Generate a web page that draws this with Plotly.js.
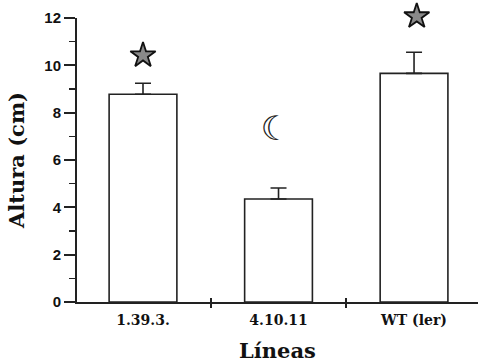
<!DOCTYPE html>
<html>
<head>
<meta charset="utf-8">
<script src="https://cdn.plot.ly/plotly-3.0.1.min.js"></script>
<style>html,body{margin:0;padding:0;background:#fff;}#chart{width:478px;height:363px;}</style>
</head>
<body>
<div id="chart"></div>
<script>
const categories = ['1.39.3.', '4.10.11', 'WT (ler)'];
const positions = [0, 1, 2];
const heights = [8.78, 4.35, 9.66];
const errorsUp = [0.46, 0.47, 0.89];
const starX = [0, 2.02];
const starY = [10.42, 12.07];
const moonX = [0.98];
const moonY = [7.2];
const yTicks = [0, 2, 4, 6, 8, 10, 12];

const serif = '"DejaVu Serif", "Liberation Serif", serif';
const sans = '"Liberation Sans", Arial, sans-serif';

// plot geometry: 12 units on the main axis, extra head-room on the hidden axis
const yMax = 12;
const topMargin = 4;
const bottomMargin = 61;
const plotH = 363 - topMargin - bottomMargin;
const pxPerUnit = (302 - 18) / yMax;
const mainFrac = (yMax * pxPerUnit) / plotH;
const y2Max = plotH / pxPerUnit;

const traces = [
  {
    type: 'bar', x: positions, y: heights, width: 0.5,
    marker: {color: '#ffffff', line: {color: '#222', width: 1.6}},
    error_y: {type: 'data', array: errorsUp, arrayminus: [0, 0, 0], symmetric: false,
              color: '#222', thickness: 1.6, width: 8},
    hoverinfo: 'none'
  },
  {
    type: 'scatter', mode: 'markers', x: starX, y: starY, yaxis: 'y2', cliponaxis: false,
    marker: {symbol: 'star', size: 19, color: '#8a8a8a', line: {color: '#111', width: 1.8}},
    hoverinfo: 'none'
  },
  {
    type: 'scatter', mode: 'text', x: moonX, y: moonY, yaxis: 'y2', text: ['☾'], cliponaxis: false,
    textfont: {family: '"DejaVu Sans", sans-serif', size: 34, color: '#222'},
    hoverinfo: 'none'
  },
  {
    type: 'scatter', mode: 'markers', x: [0.5], y: [0], xaxis: 'x2', yaxis: 'y',
    marker: {opacity: 0}, hoverinfo: 'none', showlegend: false
  }
];

const xr = [-0.487, 2.472];
const layout = {
  width: 478, height: 363,
  margin: {l: 77, r: 0, t: topMargin, b: bottomMargin},
  paper_bgcolor: '#fff', plot_bgcolor: 'rgba(0,0,0,0)',
  showlegend: false,
  xaxis: {
    range: xr, tickmode: 'array', tickvals: positions, ticktext: categories,
    ticks: '', showgrid: false, zeroline: false, anchor: 'y',
    showline: true, linecolor: '#222', linewidth: 2, ticklabelstandoff: 4,
    tickfont: {family: serif, size: 14, color: '#111', weight: 'bold'},
    minor: {tick0: 0.5, dtick: 1, ticks: 'outside', ticklen: 4, tickwidth: 2, tickcolor: '#222', showgrid: false},
    title: {text: '<b>Líneas</b>', font: {family: serif, size: 21, color: '#111'}, standoff: 20}
  },
  xaxis2: {
    overlaying: 'x', anchor: 'y', side: 'bottom', range: xr,
    tickmode: 'array', tickvals: [0.5, 1.5], ticks: 'inside', ticklen: 4, tickwidth: 2, tickcolor: '#222',
    showticklabels: false, showgrid: false, zeroline: false, showline: false
  },
  yaxis: {
    domain: [0, mainFrac], anchor: 'x',
    range: [0, yMax], tickmode: 'array', tickvals: yTicks,
    ticks: 'outside', ticklen: 11, tickwidth: 2, tickcolor: '#222',
    showgrid: false, zeroline: false, showline: true, linecolor: '#222', linewidth: 2,
    tickfont: {family: sans, size: 15, color: '#111', weight: 'bold'},
    minor: {dtick: 1, ticks: 'outside', ticklen: 6, tickwidth: 1.5, tickcolor: '#222', showgrid: false},
    title: {text: '<b>Altura (cm)</b>', font: {family: serif, size: 21, color: '#111'}, standoff: 14}
  },
  yaxis2: {
    domain: [0, 1], anchor: 'x', range: [0, y2Max], visible: false
  }
};

Plotly.newPlot('chart', traces, layout, {staticPlot: true, displayModeBar: false});
</script>
</body>
</html>
